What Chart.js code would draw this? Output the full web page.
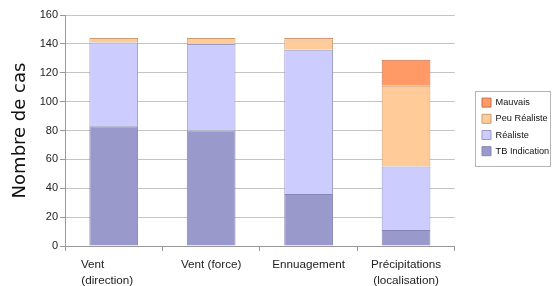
<!DOCTYPE html>
<html>
<head>
<meta charset="utf-8">
<script src="https://cdn.jsdelivr.net/npm/chart.js@4"></script>
<style>
  html, body { margin: 0; padding: 0; background: #fff; }
  #wrap { width: 553px; height: 286px; position: relative; }
</style>
</head>
<body>
<div id="wrap"><canvas id="chart"></canvas></div>
<script>
// catégories (axe des x)
const categories = [
    ['Vent             ', '(direction)    '],
    'Vent (force)',
    'Ennuagement',
    ['Précipitations', '(localisation)']
];

// valeurs (empilées)
const tbIndication = [83, 80, 36, 11];
const realiste = [58, 60, 100, 44];
const peuRealiste = [3, 4, 7, 56];
const mauvais = [0, 0, 1, 18];

const yTicks = [0, 20, 40, 60, 80, 100, 120, 140, 160];

// place la légende dans son cadre et dessine le cadre
const legendBox = {
    id: 'legendBox',
    afterLayout(chart) {
        const lg = chart.legend;
        if (!lg) return;
        lg.left = 475; lg.top = 91;
        lg.width = 76; lg.height = 76;
        lg.right = lg.left + lg.width;
        lg.bottom = lg.top + lg.height;
        if (lg.adjustHitBoxes) lg.adjustHitBoxes();
    },
    afterDraw(chart) {
        const lg = chart.legend;
        if (!lg) return;
        const c = chart.ctx;
        c.save();
        c.strokeStyle = '#b4b4b4';
        c.lineWidth = 1;
        c.strokeRect(lg.left + 0.5, lg.top + 0.5, lg.width - 1, lg.height - 1);
        c.restore();
    }
};

const ctx = document.getElementById('chart').getContext('2d');
new Chart(ctx, {
    type: 'bar',
    data: {
        labels: categories,
        datasets: [
            { label: 'TB Indication', data: tbIndication, backgroundColor: '#9999cc', borderColor: '#8585b5', borderWidth: 1 },
            { label: 'Réaliste', data: realiste, backgroundColor: '#ccccff', borderColor: '#9a9ac4', borderWidth: 1 },
            { label: 'Peu Réaliste', data: peuRealiste, backgroundColor: '#ffcc99', borderColor: '#c99d72', borderWidth: 1 },
            { label: 'Mauvais', data: mauvais, backgroundColor: '#ff9966', borderColor: '#c7704a', borderWidth: 1 }
        ]
    },
    options: {
        responsive: true,
        maintainAspectRatio: false,
        animation: false,
        layout: { padding: { top: 15, right: 14, bottom: 0, left: 0 } },
        datasets: { bar: { categoryPercentage: 1, barPercentage: 0.5 } },
        scales: {
            x: {
                stacked: true,
                afterFit: s => { s.height = 40; },
                grid: { offset: true, drawOnChartArea: false, color: '#999', tickLength: 5 },
                border: { color: '#999' },
                ticks: {
                    color: '#222',
                    font: { family: 'Liberation Sans', size: 11.7, lineHeight: 1.42 },
                    maxRotation: 0,
                    padding: 5
                }
            },
            y: {
                stacked: true,
                min: 0,
                max: 160,
                afterFit: s => { s.width = 65; },
                afterBuildTicks: s => { s.ticks = yTicks.map(v => ({ value: v })); },
                grid: { color: '#c4c4c4', tickLength: 5, tickColor: '#999' },
                border: { color: '#999' },
                title: {
                    display: true,
                    text: 'Nombre de cas',
                    color: '#111',
                    font: { family: 'DejaVu Sans', size: 18 },
                    padding: { top: 10, bottom: 4 }
                },
                ticks: {
                    color: '#222',
                    font: { family: 'Liberation Sans', size: 11 },
                    padding: 2
                }
            }
        },
        plugins: {
            legend: {
                position: 'right',
                align: 'start',
                reverse: true,
                labels: {
                    boxWidth: 9,
                    boxHeight: 9,
                    padding: 7,
                    color: '#111',
                    font: { family: 'Liberation Sans', size: 9.2 }
                }
            },
            tooltip: { enabled: false }
        }
    },
    plugins: [legendBox]
});
</script>
</body>
</html>
